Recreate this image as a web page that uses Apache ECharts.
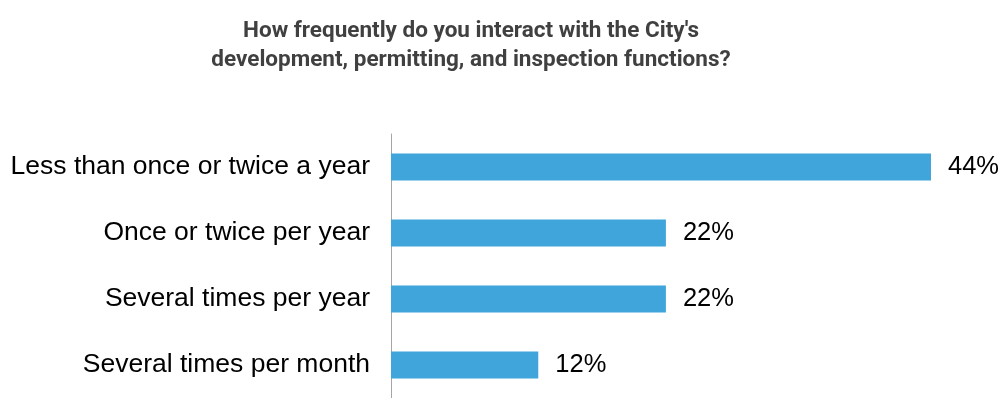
<!DOCTYPE html>
<html><head><meta charset="utf-8">
<script src="https://cdn.jsdelivr.net/npm/echarts@6/dist/echarts.min.js"></script>
<style>html,body{margin:0;padding:0;background:#fff}#c{width:1003px;height:398px}</style>
</head><body><div id="c"></div>
<script>
const titleLines = ["How frequently do you interact with the City's", "development, permitting, and inspection functions?"];
const categories = ["Less than once or twice a year", "Once or twice per year", "Several times per year", "Several times per month"];
const values = [44, 22.4, 22.4, 12.0];

const chart = echarts.init(document.getElementById('c'), null, {renderer: 'canvas'});
chart.setOption({
  animation: false,
  title: {
    text: titleLines.join('\n'),
    left: 466, top: 12, textAlign: 'center',
    textStyle: {fontFamily: 'Roboto', fontWeight: 'bold', fontSize: 22.5, color: '#404040', lineHeight: 29}
  },
  grid: {left: 391, top: 134, width: 540, height: 267, containLabel: false},
  xAxis: {type: 'value', min: 0, max: 44, show: false},
  yAxis: {
    type: 'category', data: categories, inverse: true,
    axisLine: {show: true, lineStyle: {color: '#a6a6a6', width: 1}},
    axisTick: {show: false},
    axisLabel: {fontFamily: 'Liberation Sans', fontSize: 26.5, color: '#000', margin: 21}
  },
  series: [{
    type: 'bar', data: values, barWidth: 27,
    itemStyle: {color: '#3fa5da'},
    label: {show: true, position: 'right', distance: 17, fontFamily: 'Liberation Sans', fontSize: 25.5, color: '#000',
      formatter: p => Math.round(p.value) + '%'}
  }]
});
</script></body></html>
